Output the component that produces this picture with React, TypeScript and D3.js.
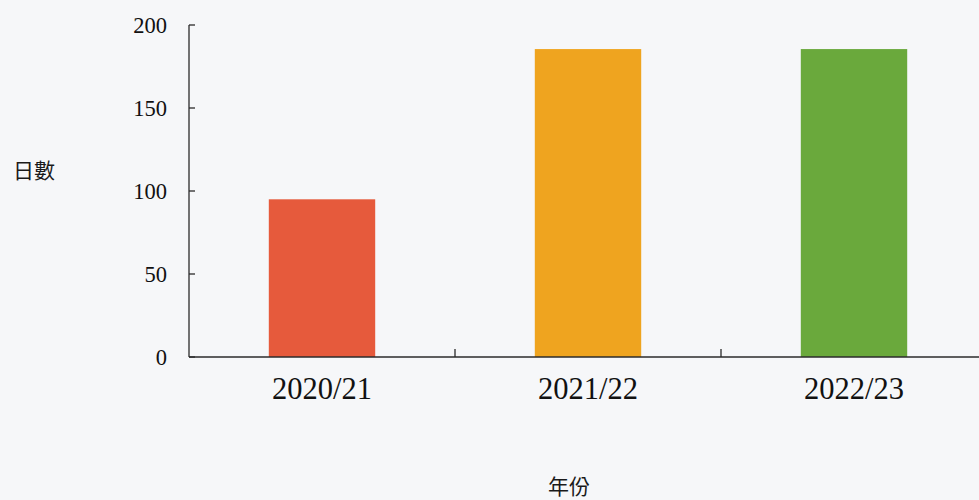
import React from "react";
import * as d3 from "d3";

const categories = ["2020/21", "2021/22", "2022/23"];
const values = [95, 185.5, 185.5];
const colors = ["#e65a3c", "#efa41f", "#6aa93c"];
const yTicks = [0, 50, 100, 150, 200];
const yLabel = "日數";
const xLabel = "年份";

const W = 979;
const H = 500;

export default function App() {
  const x = d3
    .scaleBand<string>()
    .domain(categories)
    .range([189, 987])
    .paddingInner(0.6)
    .paddingOuter(0.3);
  const step = x.step();
  const y = d3.scaleLinear().domain([0, 200]).range([357, 25]);
  const boundaries = categories.map((_, i) => 189 + step * (i + 1));
  const serif = "'Liberation Serif', 'Times New Roman', serif";
  const cjk = "'Noto Sans CJK TC', 'Noto Sans CJK SC', sans-serif";

  return (
    <svg
      width={W}
      height={H}
      style={{ position: "absolute", left: 0, top: 0 }}
    >
      <rect x={0} y={0} width={W} height={H} fill="#f6f7f9" />
      {categories.map((c, i) => (
        <rect
          key={c}
          x={x(c)}
          y={y(values[i])}
          width={x.bandwidth()}
          height={y(0) - y(values[i])}
          fill={colors[i]}
        />
      ))}
      {/* y axis */}
      <line x1={189} x2={189} y1={y(200)} y2={y(0)} stroke="#2b2b2b" strokeWidth={1.3} />
      {yTicks.map((t) => (
        <g key={t}>
          <line x1={189} x2={195} y1={y(t)} y2={y(t)} stroke="#2b2b2b" strokeWidth={1.3} />
          <text
            x={167}
            y={y(t)}
            dy="0.35em"
            textAnchor="end"
            fontFamily={serif}
            fontSize={22.5}
            fill="#111"
          >
            {t}
          </text>
        </g>
      ))}
      {/* x axis */}
      <line x1={189} x2={W} y1={y(0)} y2={y(0)} stroke="#2b2b2b" strokeWidth={1.3} />
      {boundaries.map((b, i) => (
        <line key={i} x1={b} x2={b} y1={y(0)} y2={y(0) - 8} stroke="#2b2b2b" strokeWidth={1.3} />
      ))}
      {categories.map((c) => (
        <text
          key={c}
          x={(x(c) as number) + x.bandwidth() / 2}
          y={399}
          textAnchor="middle"
          fontFamily={serif}
          fontSize={30.5}
          fill="#111"
        >
          {c}
        </text>
      ))}
      <text x={34} y={178} textAnchor="middle" fontFamily={cjk} fontSize={21} fill="#1a1a1a">
        {yLabel}
      </text>
      <text x={569} y={494} textAnchor="middle" fontFamily={cjk} fontSize={21} fill="#1a1a1a">
        {xLabel}
      </text>
    </svg>
  );
}
